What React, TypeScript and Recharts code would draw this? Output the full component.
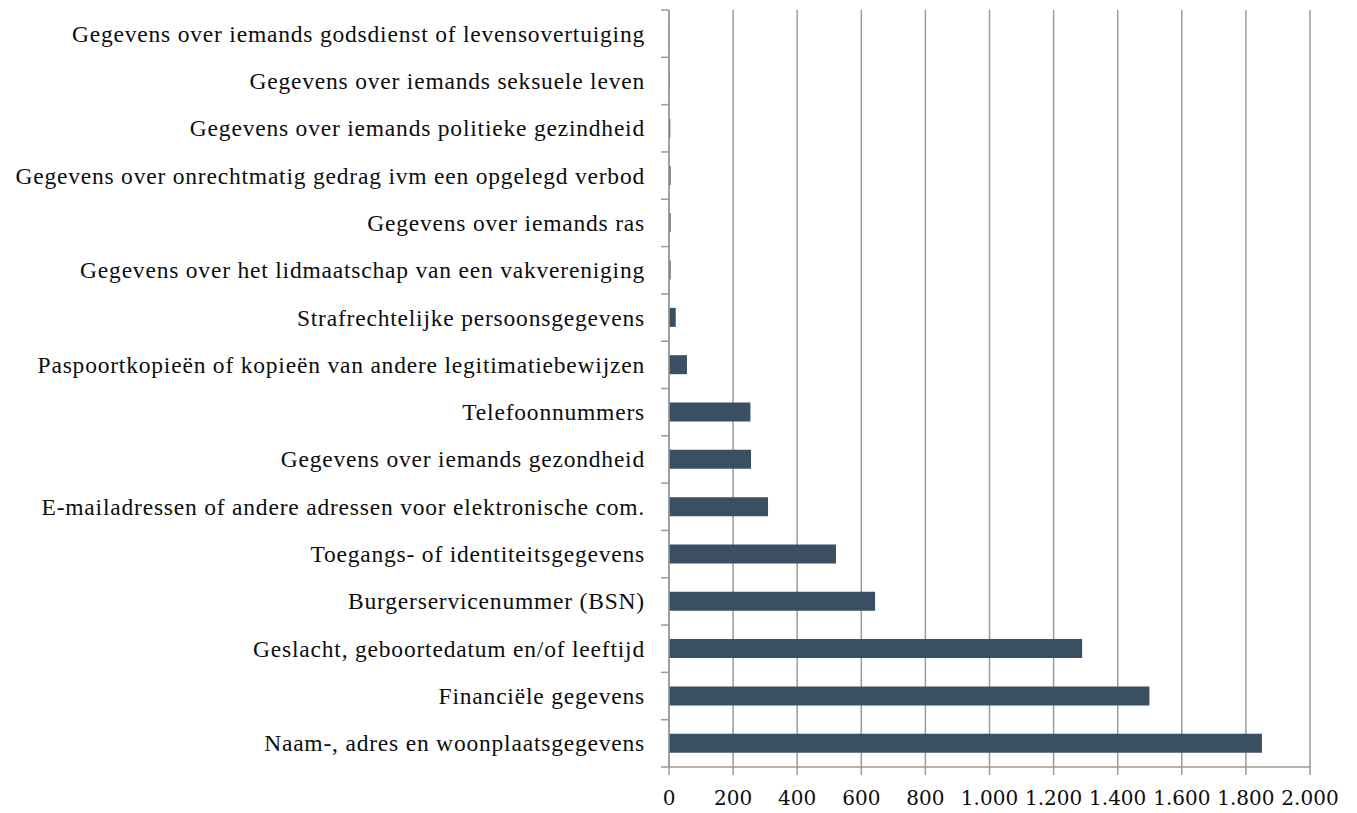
import React from "react";
import { BarChart, Bar, XAxis, YAxis, CartesianGrid } from "recharts";

const categories = [
  "Gegevens over iemands godsdienst of levensovertuiging",
  "Gegevens over iemands seksuele leven",
  "Gegevens over iemands politieke gezindheid",
  "Gegevens over onrechtmatig gedrag ivm een opgelegd verbod",
  "Gegevens over iemands ras",
  "Gegevens over het lidmaatschap van een vakvereniging",
  "Strafrechtelijke persoonsgegevens",
  "Paspoortkopieën of kopieën van andere legitimatiebewijzen",
  "Telefoonnummers",
  "Gegevens over iemands gezondheid",
  "E-mailadressen of andere adressen voor elektronische com.",
  "Toegangs- of identiteitsgegevens",
  "Burgerservicenummer (BSN)",
  "Geslacht, geboortedatum en/of leeftijd",
  "Financiële gegevens",
  "Naam-, adres en woonplaatsgegevens",
];

const counts = [1, 2, 4, 5, 5, 5, 21, 56, 254, 256, 309, 521, 643, 1289, 1499, 1850];

const xTicks = [0, 200, 400, 600, 800, 1000, 1200, 1400, 1600, 1800, 2000];

const data = categories.map((name, i) => ({ name, value: counts[i] }));

const W = 1340;
const H = 805;
const MARGIN = { top: 2, right: 38, bottom: 6, left: 0 };
const X_AXIS_H = 40;
const Y_AXIS_W = 661;
const PLOT_H = H - MARGIN.top - MARGIN.bottom - X_AXIS_H;
const BAND = PLOT_H / categories.length;

const LABEL_FONT = "'Liberation Serif', serif";
const NUM_FONT = "'DejaVu Serif', serif";
const GRID = "#9a9a9a";

const fmt = (v: number) => String(v).replace(/\B(?=(\d{3})+(?!\d))/g, ".");

function CategoryTick(props: any) {
  const { x, y, payload, index } = props;
  const last = index === categories.length - 1;
  return (
    <g>
      <line x1={x - 8} x2={x} y1={y - BAND / 2} y2={y - BAND / 2} stroke={GRID} strokeWidth={1.5} />
      {last && (
        <line x1={x - 8} x2={x} y1={y + BAND / 2} y2={y + BAND / 2} stroke={GRID} strokeWidth={1.5} />
      )}
      <text
        x={x - 24}
        y={y}
        dy={8}
        textAnchor="end"
        fontFamily={LABEL_FONT}
        fontSize={23.5}
        letterSpacing={0.8}
        fill="#0d0d0d"
      >
        {payload.value}
      </text>
    </g>
  );
}

export default function App() {
  return (
    <div style={{ width: W, height: H, fontFamily: LABEL_FONT, background: "#fff" }}>
      <BarChart width={W} height={H} data={data} layout="vertical" margin={MARGIN} barSize={19}>
        <CartesianGrid horizontal={false} stroke={GRID} strokeWidth={1.5} />
        <XAxis
          type="number"
          domain={[0, 2000]}
          ticks={xTicks}
          tickFormatter={fmt}
          height={X_AXIS_H}
          tickSize={8}
          tickMargin={16}
          stroke={GRID}
          strokeWidth={1.5}
          tick={{ fill: "#0d0d0d", fontSize: 20, fontFamily: NUM_FONT }}
          interval={0}
        />
        <YAxis
          type="category"
          dataKey="name"
          width={Y_AXIS_W}
          tickSize={0}
          tickMargin={0}
          tickLine={false}
          stroke={GRID}
          strokeWidth={1.5}
          interval={0}
          tick={<CategoryTick />}
        />
        <Bar dataKey="value" fill="#3a4f62" isAnimationActive={false} />
      </BarChart>
    </div>
  );
}
